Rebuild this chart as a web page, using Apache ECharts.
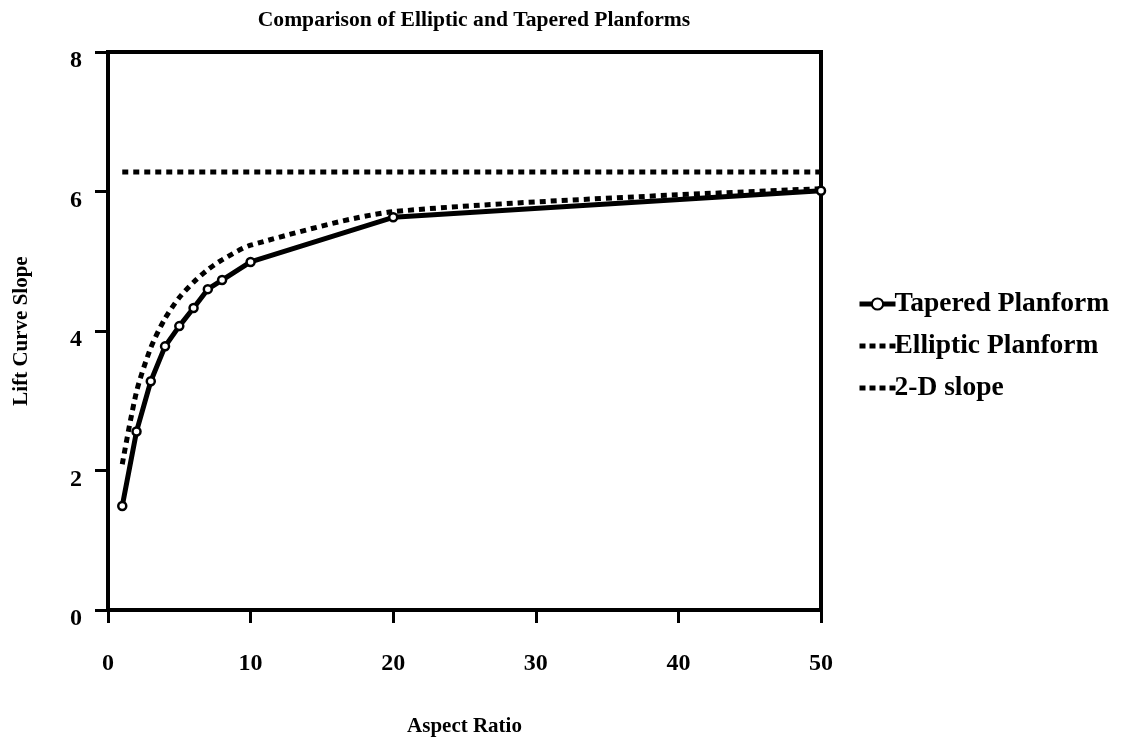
<!DOCTYPE html>
<html>
<head>
<meta charset="utf-8">
<title>Comparison of Elliptic and Tapered Planforms</title>
<script src="https://cdn.jsdelivr.net/npm/echarts@6/dist/echarts.min.js"></script>
<style>
  html, body { margin: 0; padding: 0; background: #fff; }
  #chart { width: 1131px; height: 740px; }
</style>
</head>
<body>
<div id="chart"></div>
<script>
// Aspect ratios at which the lift curve slope was evaluated
const aspectRatio = [1, 2, 3, 4, 5, 6, 7, 8, 10, 20, 50];
// Lift curve slope (per radian) for each planform
const taperedSlope = [1.49, 2.56, 3.28, 3.78, 4.07, 4.33, 4.60, 4.73, 4.99, 5.63, 6.01];
const ellipticSlope = [2.09, 3.13, 3.76, 4.18, 4.48, 4.70, 4.88, 5.02, 5.23, 5.71, 6.04];
// Two-dimensional (airfoil) slope, drawn across the aspect-ratio range
const slope2DRange = [1, 50];
const slope2DValue = 6.28;
const yTicks = [0, 2, 4, 6, 8];
const xTicks = [0, 10, 20, 30, 40, 50];

const FONT = '"Liberation Serif", "Times New Roman", serif';

const pairs = (xs, ys) => xs.map((x, i) => [x, ys[i]]);

const chart = echarts.init(document.getElementById('chart'), null, { renderer: 'canvas' });

const dotted = {
  color: '#000',
  width: 5,
  type: [6, 5],
  cap: 'butt'
};
const dottedIcon = { color: '#000', width: 5, type: [6, 4], cap: 'butt' };

chart.setOption({
  backgroundColor: '#fff',
  animation: false,
  title: {
    text: 'Comparison of Elliptic and Tapered Planforms',
    left: 469,
    top: 4,
    textAlign: 'center',
    textStyle: { fontFamily: FONT, fontWeight: 'bold', fontSize: 21.6, color: '#000' }
  },
  legend: {
    orient: 'vertical',
    left: 857,
    top: 290,
    padding: 0,
    itemWidth: 36,
    itemHeight: 14,
    itemGap: 14,
    textStyle: { fontFamily: FONT, fontWeight: 'bold', fontSize: 27.5, lineHeight: 26, color: '#000', padding: [0, 0, 0, -6] },
    data: [
      { name: 'Tapered Planform', lineStyle: { color: '#000', width: 5 } },
      { name: 'Elliptic Planform', lineStyle: dottedIcon, itemStyle: { opacity: 0 } },
      { name: '2-D slope', lineStyle: dottedIcon, itemStyle: { opacity: 0 } }
    ]
  },
  grid: {
    left: 108,
    right: 310,
    top: 52,
    bottom: 130,
    outerBoundsMode: 'none',
    containLabel: false,
    show: true,
    borderColor: '#000',
    borderWidth: 4,
    backgroundColor: 'transparent'
  },
  xAxis: {
    type: 'value',
    min: xTicks[0],
    max: xTicks[xTicks.length - 1],
    interval: 10,
    name: 'Aspect Ratio',
    nameLocation: 'middle',
    nameGap: 106,
    nameTextStyle: { fontFamily: FONT, fontWeight: 'bold', fontSize: 21, color: '#000' },
    axisLine: { show: true, onZero: false, lineStyle: { color: '#000', width: 4 } },
    axisTick: { show: true, length: 13, lineStyle: { color: '#000', width: 3 } },
    axisLabel: {
      margin: 42,
      fontFamily: FONT, fontWeight: 'bold', fontSize: 24, color: '#000',
      formatter: v => String(v)
    },
    splitLine: { show: false }
  },
  yAxis: {
    type: 'value',
    min: yTicks[0],
    max: yTicks[yTicks.length - 1],
    interval: 2,
    name: 'Lift Curve Slope',
    nameLocation: 'middle',
    nameGap: 76,
    nameTextStyle: { fontFamily: FONT, fontWeight: 'bold', fontSize: 21, color: '#000' },
    axisLine: { show: true, onZero: false, lineStyle: { color: '#000', width: 4 } },
    axisTick: { show: true, length: 13, lineStyle: { color: '#000', width: 3 } },
    axisLabel: {
      margin: 26,
      verticalAlign: 'top',
      padding: [-3, 0, 0, 0],
      fontFamily: FONT, fontWeight: 'bold', fontSize: 24, color: '#000'
    },
    splitLine: { show: false }
  },
  series: [
    {
      name: 'Tapered Planform',
      type: 'line',
      data: pairs(aspectRatio, taperedSlope),
      lineStyle: { color: '#000', width: 5 },
      symbol: 'circle',
      symbolSize: 8,
      showAllSymbol: true,
      itemStyle: { color: '#fff', borderColor: '#000', borderWidth: 2.5 },
      z: 3
    },
    {
      name: 'Elliptic Planform',
      type: 'line',
      data: pairs(aspectRatio, ellipticSlope),
      smooth: 0.25,
      symbol: 'none',
      lineStyle: dotted,
      itemStyle: { color: '#000' },
      z: 2
    },
    {
      name: '2-D slope',
      type: 'line',
      data: slope2DRange.map(x => [x, slope2DValue]),
      symbol: 'none',
      lineStyle: dotted,
      itemStyle: { color: '#000' },
      z: 2
    }
  ]
});
</script>
</body>
</html>
